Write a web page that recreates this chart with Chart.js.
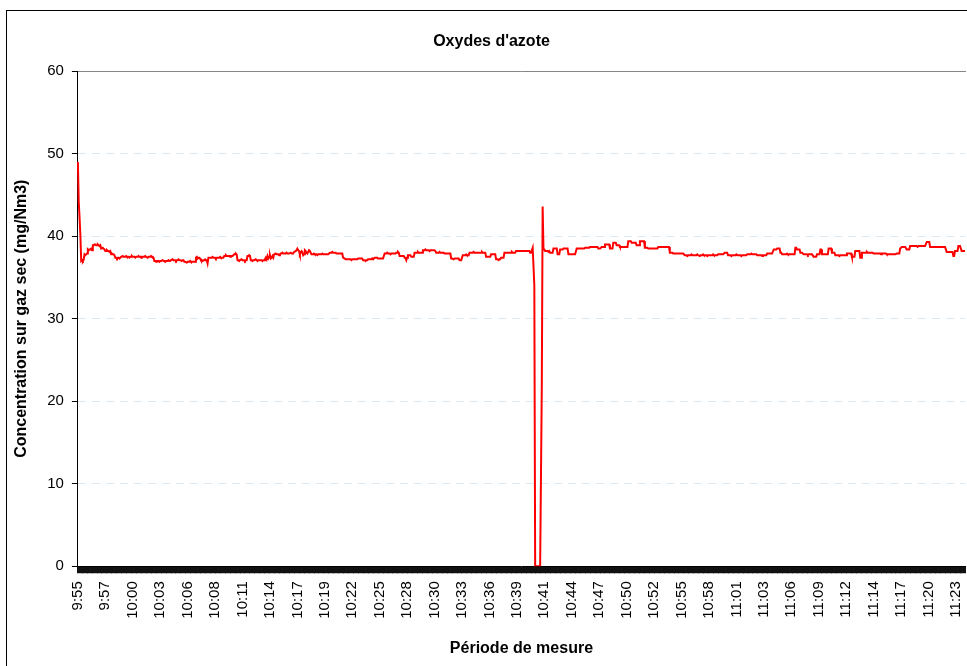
<!DOCTYPE html>
<html>
<head>
<meta charset="utf-8">
<script src="https://cdn.jsdelivr.net/npm/chart.js@4.4.1/dist/chart.umd.min.js"></script>
<style>
  html, body { margin: 0; padding: 0; background: #fff; overflow: hidden; }
  #frame { position: absolute; left: 6px; top: 10px; width: 1000px; height: 700px; border: 1px solid #000; }
  #wrap { position: absolute; left: 0; top: 0; width: 983px; height: 666px; }
</style>
</head>
<body>
<div id="frame"></div>
<div id="wrap"><canvas id="myChart"></canvas></div>
<script>
"use strict";

// one reading every 5 seconds, from 9:55:00
var startSeconds = 9 * 3600 + 55 * 60;
var stepSeconds = 5;

// labels shown under the axis, one every 33 readings
var tickLabels = ['9:55', '9:57', '10:00', '10:03', '10:06', '10:08', '10:11', '10:14', '10:17', '10:19',
    '10:22', '10:25', '10:28', '10:30', '10:33', '10:36', '10:39', '10:41', '10:44', '10:47',
    '10:50', '10:52', '10:55', '10:58', '11:01', '11:03', '11:06', '11:09', '11:12', '11:14',
    '11:17', '11:20', '11:23'];
var tickEvery = 33;

// NOx concentration, mg/Nm3
var noxValues = [
    49.0,44.2,42.3,40.1,37.0,37.1,37.0,37.2,37.8,37.7,37.8,37.9,38.4,38.3,38.4,38.4,38.5,38.3,38.9,38.9,
    39.0,39.0,38.9,38.9,39.0,38.9,38.8,38.9,38.5,38.5,38.6,38.5,38.4,38.2,38.2,38.3,38.2,38.2,38.1,38.2,
    37.8,37.9,37.8,37.8,37.7,37.4,37.4,37.3,37.4,37.4,37.3,37.4,37.5,37.5,37.6,37.5,37.5,37.5,37.6,37.5,
    37.5,37.5,37.4,37.5,37.5,37.6,37.5,37.5,37.5,37.4,37.5,37.5,37.5,37.6,37.5,37.5,37.4,37.5,37.5,37.5,
    37.5,37.6,37.5,37.5,37.4,37.5,37.5,37.5,37.6,37.5,37.5,37.4,37.0,37.0,36.9,37.0,37.0,37.0,36.9,37.0,
    37.0,37.0,37.1,37.0,37.0,36.9,37.0,37.0,37.0,37.1,37.0,37.0,37.1,37.1,37.2,37.1,37.1,37.1,37.0,37.1,
    37.1,37.2,37.1,37.1,37.1,37.0,37.1,37.1,36.9,36.9,36.9,36.8,36.9,36.9,36.9,37.0,36.9,36.9,36.9,36.9,
    36.9,36.9,37.4,37.5,37.3,37.4,37.4,37.3,37.1,37.1,37.0,37.1,37.1,37.2,37.1,37.1,36.7,37.4,37.4,37.4,
    37.4,37.4,37.5,37.4,37.4,37.4,37.3,37.4,37.4,37.4,37.4,37.5,37.4,37.4,37.4,37.4,37.6,37.6,37.7,37.6,
    37.6,37.6,37.6,37.5,37.6,37.6,37.6,37.7,37.8,37.8,37.9,37.8,37.1,37.1,37.0,37.1,37.1,37.2,37.1,37.1,
    37.1,37.0,37.1,37.1,37.6,37.6,37.7,37.6,37.1,37.1,37.0,37.1,37.1,37.1,37.2,37.1,37.0,37.1,37.1,37.1,
    37.1,37.1,37.0,37.1,37.1,37.2,37.4,37.2,37.6,37.3,37.5,37.7,37.3,37.4,37.6,37.4,37.8,37.8,37.9,37.8,
    37.8,37.8,37.7,37.8,37.9,37.9,38.0,37.9,37.9,37.9,37.9,38.0,37.9,37.9,37.9,37.9,38.0,37.9,37.9,37.9,
    38.1,38.1,38.2,38.3,38.5,38.3,38.2,37.8,38.0,38.2,38.1,37.7,37.8,38.3,38.2,38.0,37.9,38.1,38.3,38.2,
    38.0,37.8,37.8,37.8,37.9,37.8,37.8,37.8,37.7,37.8,37.8,37.8,37.8,37.8,37.9,37.8,37.8,37.8,37.8,37.8,
    37.8,37.8,37.8,38.0,38.0,38.0,38.1,38.0,38.0,38.0,38.0,37.9,37.9,37.9,37.9,37.9,37.9,37.9,37.9,37.4,
    37.4,37.3,37.2,37.2,37.2,37.2,37.2,37.2,37.2,37.1,37.2,37.2,37.2,37.2,37.2,37.2,37.2,37.3,37.3,37.3,
    37.3,37.3,37.3,37.1,37.1,37.1,37.0,37.1,37.1,37.2,37.2,37.2,37.2,37.2,37.3,37.2,37.2,37.4,37.4,37.4,
    37.4,37.3,37.3,37.3,37.3,37.3,37.3,37.3,37.3,37.9,37.9,37.9,38.0,37.9,37.9,37.9,37.8,37.9,37.9,37.9,
    37.9,37.9,37.9,38.0,38.0,38.1,38.0,37.6,37.6,37.6,37.6,37.6,37.6,37.4,37.4,37.1,37.4,37.7,37.7,37.7,
    37.7,37.5,37.5,37.5,37.5,38.0,38.0,38.0,38.0,38.1,38.0,38.0,38.0,38.0,38.0,38.3,38.3,38.3,38.4,38.3,
    38.3,38.3,38.3,38.2,38.3,38.3,38.3,38.3,38.3,38.3,38.2,38.0,38.0,38.0,38.0,38.1,38.0,38.0,38.0,38.0,
    38.0,37.9,37.9,37.9,37.9,37.9,37.9,37.9,37.9,37.3,37.3,37.3,37.2,37.3,37.3,37.3,37.3,37.3,37.3,37.1,
    37.1,37.1,37.1,37.7,37.7,37.7,37.7,37.8,37.7,37.7,37.7,38.0,38.0,38.0,38.0,38.0,38.1,38.0,38.0,38.0,
    38.0,38.0,38.0,38.0,38.0,38.0,38.1,38.0,38.0,38.0,38.0,37.5,37.5,37.5,37.5,37.5,37.5,37.8,37.8,37.8,
    37.8,37.8,37.8,37.2,37.2,37.2,37.1,37.2,37.2,37.4,37.4,37.4,37.4,38.0,38.0,38.0,38.0,38.0,38.0,38.0,
    38.0,38.0,38.1,38.0,38.0,38.0,38.0,38.2,38.2,38.2,38.2,38.2,38.2,38.2,38.2,38.2,38.2,38.2,38.2,38.2,
    38.2,38.2,38.2,38.2,38.0,38.0,38.0,38.6,36.4,34.0,0,0,0,0,0,0,0,0,22.0,43.6,
    38.4,38.4,38.2,38.2,38.2,38.2,38.1,38.2,38.0,38.0,38.0,38.0,38.5,38.5,38.5,38.5,38.5,37.8,37.8,37.8,
    38.4,38.4,38.4,38.4,38.5,38.5,38.5,38.5,38.5,38.5,37.8,37.8,37.8,37.8,37.8,37.8,37.8,37.8,37.8,37.8,
    38.5,38.5,38.5,38.5,38.5,38.5,38.5,38.5,38.5,38.5,38.6,38.6,38.6,38.6,38.6,38.6,38.7,38.7,38.7,38.7,
    38.7,38.7,38.7,38.7,38.7,38.7,38.5,38.5,38.5,38.5,38.7,38.7,38.7,38.7,39.0,39.0,39.0,39.0,39.0,39.0,
    38.5,38.5,38.5,38.5,39.2,39.2,39.2,39.2,38.9,38.9,38.9,38.9,38.7,38.7,38.7,38.7,38.7,38.7,38.7,38.7,
    38.7,38.7,39.4,39.4,39.4,39.4,39.2,39.2,39.2,39.2,39.2,39.2,38.9,38.9,38.9,38.9,39.4,39.4,39.4,39.4,
    39.4,39.4,38.6,38.6,38.6,38.6,38.5,38.5,38.5,38.5,38.5,38.5,38.5,38.5,38.5,38.5,38.5,38.5,38.7,38.7,
    38.7,38.7,38.7,38.7,38.7,38.7,38.7,38.7,38.7,38.7,38.7,38.7,38.0,38.0,38.0,38.0,37.9,37.9,37.9,37.9,
    37.9,37.9,37.9,37.9,37.9,37.9,37.9,37.9,37.9,37.9,37.7,37.7,37.7,37.6,37.7,37.7,37.7,37.7,37.8,37.7,
    37.7,37.7,37.7,37.7,37.7,37.8,37.7,37.7,37.6,37.7,37.7,37.7,37.8,37.7,37.7,37.7,37.7,37.6,37.7,37.7,
    37.7,37.7,37.7,37.7,37.8,37.7,37.7,37.7,37.7,37.7,37.8,37.8,37.8,37.8,37.8,37.8,37.8,37.8,38.0,38.0,
    38.0,38.0,37.7,37.7,37.7,37.7,37.6,37.7,37.7,37.7,37.7,37.7,37.8,37.7,37.7,37.7,37.7,37.7,37.6,37.7,
    37.7,37.7,37.7,37.7,37.7,37.8,37.8,37.8,37.8,37.8,37.9,37.8,37.8,37.8,37.8,37.8,37.8,37.7,37.7,37.7,
    37.7,37.7,37.7,37.6,37.7,37.7,37.7,37.7,37.7,37.9,37.9,37.9,37.9,37.9,37.9,37.9,37.9,38.4,38.4,38.4,
    38.4,38.5,38.5,38.5,38.5,38.0,38.0,37.8,37.8,37.8,37.8,37.8,37.8,37.9,37.8,37.8,37.8,37.8,37.8,37.8,
    37.8,37.8,37.8,38.6,38.6,38.4,38.4,38.4,38.4,38.0,38.0,38.0,38.0,37.8,37.8,37.8,37.8,37.8,37.7,37.8,
    37.8,37.8,37.8,37.8,37.8,37.5,37.5,37.5,37.5,37.8,37.8,37.8,37.8,38.4,38.4,37.8,37.8,37.8,37.8,37.8,
    37.8,37.8,37.8,38.5,38.5,38.5,38.5,38.0,38.0,38.0,38.0,37.7,37.7,37.7,37.7,37.7,37.6,37.7,37.7,37.7,
    37.7,37.7,37.7,37.7,37.7,37.9,37.9,37.9,37.9,37.9,37.9,37.5,37.5,37.5,37.5,38.2,38.2,38.2,38.2,38.2,
    38.2,37.4,37.4,38.0,38.0,38.0,38.0,38.0,38.0,38.1,38.0,38.0,38.0,38.0,38.0,38.0,38.0,37.9,37.9,37.9,
    37.9,37.9,37.9,37.9,37.9,37.9,37.8,37.9,37.9,37.9,37.9,37.9,37.9,37.8,37.8,37.8,37.8,37.8,37.8,37.8,
    37.8,37.8,37.8,37.8,37.8,37.9,37.9,37.9,37.9,38.5,38.5,38.7,38.7,38.7,38.7,38.7,38.7,38.4,38.4,38.4,
    38.4,38.8,38.8,38.8,38.8,38.8,38.8,38.8,38.8,38.8,38.7,38.8,38.8,38.8,38.8,38.8,38.8,38.8,38.8,38.8,
    38.8,39.3,39.3,39.3,39.3,38.7,38.7,38.7,38.7,38.7,38.7,38.7,38.7,38.7,38.7,38.7,38.7,38.7,38.7,38.7,
    38.7,38.7,38.7,38.7,38.7,38.1,38.1,38.1,38.1,38.1,38.1,38.1,38.1,37.6,37.6,38.2,38.2,38.2,38.2,38.8,
    38.8,38.8,38.8,38.2,38.2,38.2,38.2,38.2
];

// category for every reading: h:mm:ss
var timeLabels = noxValues.map(function (v, i) {
    var s = startSeconds + i * stepSeconds;
    var h = Math.floor(s / 3600);
    var m = Math.floor(s / 60) % 60;
    var sec = s % 60;
    return h + ':' + (m < 10 ? '0' : '') + m + ':' + (sec < 10 ? '0' : '') + sec;
});

var font = 'Liberation Sans, Arial, Helvetica, sans-serif';

var ctx = document.querySelector('#myChart').getContext('2d');

var myChart = new Chart(ctx, {
    type: 'line',
    data: {
        labels: timeLabels,
        datasets: [{
            label: "Oxydes d'azote",
            data: noxValues,
            xAxisID: 'x',
            yAxisID: 'y',
            borderColor: '#ff0000',
            borderWidth: 2,
            pointRadius: 0,
            tension: 0,
            fill: false
        }]
    },
    options: {
        responsive: true,
        maintainAspectRatio: false,
        animation: false,
        devicePixelRatio: 1,
        events: [],
        layout: {
            padding: 0
        },
        plugins: {
            legend: false,
            tooltip: { enabled: false },
            title: {
                display: true,
                text: "Oxydes d'azote",
                color: '#000',
                font: { family: font, size: 16, weight: 'bold' },
                padding: { top: 32, bottom: 20 }
            }
        },
        scales: {
            x: {
                type: 'category',
                position: 'bottom',
                offset: false,
                grid: {
                    drawOnChartArea: false,
                    drawTicks: true,
                    tickLength: 7,
                    color: '#111',
                    offset: false
                },
                border: { display: true, color: '#000', width: 1 },
                ticks: {
                    autoSkip: false,
                    minRotation: 90,
                    maxRotation: 90,
                    padding: 8,
                    color: '#000',
                    font: { family: font, size: 15 },
                    callback: function (value, index) {
                        return index % tickEvery === 0 ? tickLabels[index / tickEvery] : '';
                    }
                },
                title: {
                    display: true,
                    text: 'Période de mesure',
                    color: '#000',
                    font: { family: font, size: 16, weight: 'bold' },
                    padding: { top: 12, bottom: 8 }
                },
                afterFit: function (scale) {
                    scale.paddingLeft = 0;
                    scale.paddingRight = 0;
                }
            },
            top: {
                type: 'linear',
                position: 'top',
                min: 0,
                max: 1,
                grid: { display: false, drawTicks: false },
                ticks: { display: false },
                border: { display: true, color: '#868686', width: 1 }
            },
            right: {
                type: 'linear',
                position: 'right',
                min: 0,
                max: 1,
                grid: { display: false, drawTicks: false },
                ticks: { display: false },
                border: { display: false },
                afterFit: function (scale) { scale.width = 18; }
            },
            y: {
                min: 0,
                max: 60,
                grid: {
                    color: 'rgba(190, 215, 235, 0.55)',
                    tickColor: '#000',
                    tickLength: 6,
                    drawTicks: true
                },
                border: { display: true, color: '#000', width: 1, dash: [8, 6] },
                ticks: {
                    stepSize: 10,
                    padding: 8,
                    color: '#000',
                    font: { family: font, size: 15 }
                },
                title: {
                    display: true,
                    text: 'Concentration sur gaz sec (mg/Nm3)',
                    color: '#000',
                    font: { family: font, size: 16, weight: 'bold' },
                    padding: { top: 12, bottom: 8 }
                }
            }
        }
    }
});
</script>
</body>
</html>
